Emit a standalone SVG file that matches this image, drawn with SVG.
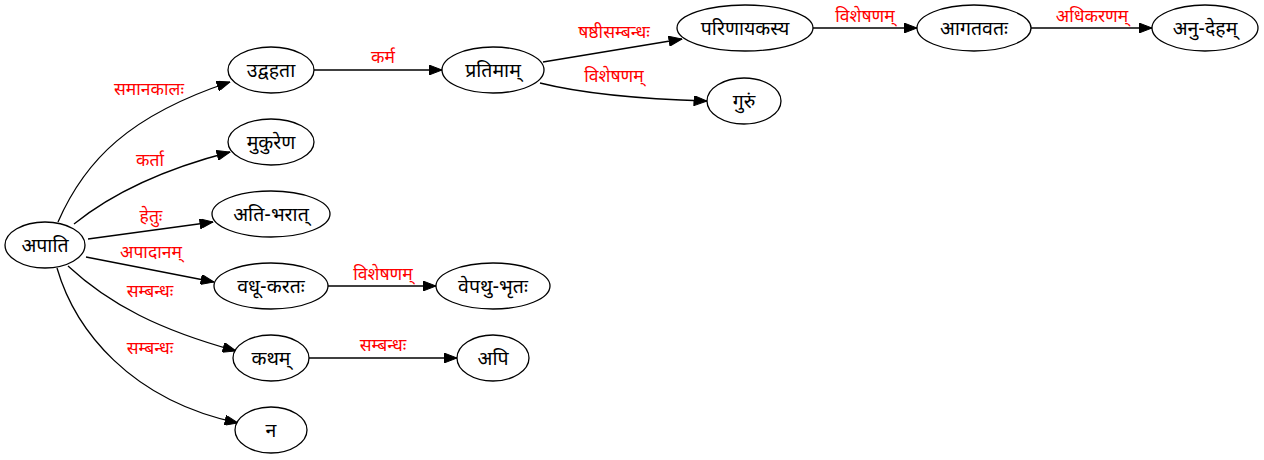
<svg xmlns="http://www.w3.org/2000/svg" width="1264" height="460" viewBox="0 0 1264 460">
<style>
  .n ellipse { fill: #ffffff; stroke: #000000; stroke-width: 1.3; }
  .n text { font-family: "Noto Sans Devanagari", "Lohit Devanagari", "Noto Sans", "DejaVu Sans", sans-serif; font-size: 19.5px; fill: #000000; text-anchor: middle; }
  #edges path { fill: none; stroke: #000000; stroke-width: 1.3; marker-end: url(#arrow); }
  #edges text { font-family: "Noto Sans Devanagari", "Lohit Devanagari", "Noto Sans", "DejaVu Sans", sans-serif; font-size: 17.5px; fill: #ff0000; text-anchor: middle; }
</style>
<defs>
  <marker id="arrow" viewBox="0 0 13 10" refX="13" refY="5" markerWidth="14" markerHeight="10" markerUnits="userSpaceOnUse" orient="auto">
    <path d="M0,0 L13,5 L0,10 Z" fill="#000000" stroke="#000000" stroke-width="1"/>
  </marker>
</defs>
<rect width="1264" height="460" fill="#ffffff"/>
<g id="edges">
  <path d="M58,222 C85,160 130,115 230,82"/>
  <text x="149" y="95">समानकालः</text>
  <path d="M74,224 C110,195 160,170 230,152"/>
  <text x="150" y="166">कर्ता</text>
  <path d="M88,239 L213,222"/>
  <text x="151" y="222">हेतुः</text>
  <path d="M86,257 L214,282"/>
  <text x="151" y="258">अपादानम्</text>
  <path d="M68,266 C110,305 160,330 236,351"/>
  <text x="150" y="297">सम्बन्धः</text>
  <path d="M57,268 C75,330 130,400 238,423"/>
  <text x="150" y="354">सम्बन्धः</text>
  <path d="M314,70 L442,70"/>
  <text x="383" y="63">कर्म</text>
  <path d="M543,62 L682,39"/>
  <text x="614" y="38">षष्ठीसम्बन्धः</text>
  <path d="M540,83 C580,93 640,99 707,101"/>
  <text x="614" y="82">विशेषणम्</text>
  <path d="M328,286 L436,286"/>
  <text x="383" y="280">विशेषणम्</text>
  <path d="M309,358 L457,358"/>
  <text x="383" y="351">सम्बन्धः</text>
  <path d="M813,28 L917,28"/>
  <text x="865" y="22">विशेषणम्</text>
  <path d="M1031,28 L1152,28"/>
  <text x="1092" y="22">अधिकरणम्</text>
</g>
<g id="node-apaati" class="n"><ellipse cx="45" cy="245" rx="40" ry="23"/><text x="45" y="252">अपाति</text></g>
<g id="node-udvahata" class="n"><ellipse cx="271" cy="70" rx="43" ry="23"/><text x="271" y="77">उद्वहता</text></g>
<g id="node-mukurena" class="n"><ellipse cx="271" cy="142" rx="43" ry="23"/><text x="271" y="149">मुकुरेण</text></g>
<g id="node-atibharat" class="n"><ellipse cx="271" cy="214" rx="59" ry="23"/><text x="271" y="221">अति-भरात्</text></g>
<g id="node-vadhukaratah" class="n"><ellipse cx="271" cy="286" rx="57" ry="23"/><text x="271" y="293">वधू-करतः</text></g>
<g id="node-katham" class="n"><ellipse cx="271" cy="358" rx="38" ry="23"/><text x="271" y="365">कथम्</text></g>
<g id="node-na" class="n"><ellipse cx="271" cy="430" rx="36" ry="23"/><text x="271" y="437">न</text></g>
<g id="node-pratimam" class="n"><ellipse cx="493" cy="70" rx="51" ry="23"/><text x="493" y="77">प्रतिमाम्</text></g>
<g id="node-vepathubhrtah" class="n"><ellipse cx="493" cy="286" rx="57" ry="23"/><text x="493" y="293">वेपथु-भृतः</text></g>
<g id="node-api" class="n"><ellipse cx="493" cy="358" rx="36" ry="23"/><text x="493" y="365">अपि</text></g>
<g id="node-parinayakasya" class="n"><ellipse cx="745" cy="28" rx="68" ry="23"/><text x="745" y="35">परिणायकस्य</text></g>
<g id="node-gurum" class="n"><ellipse cx="744" cy="101" rx="37" ry="23"/><text x="744" y="108">गुरुं</text></g>
<g id="node-agatavatah" class="n"><ellipse cx="974" cy="28" rx="57" ry="23"/><text x="974" y="35">आगतवतः</text></g>
<g id="node-anudeham" class="n"><ellipse cx="1205" cy="28" rx="53" ry="23"/><text x="1205" y="35">अनु-देहम्</text></g>
</svg>
